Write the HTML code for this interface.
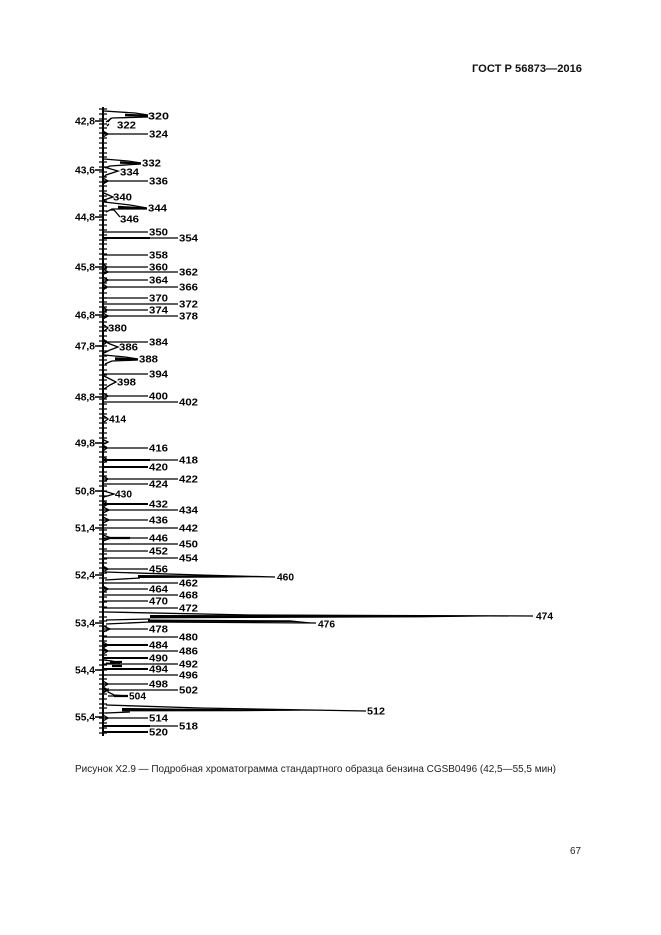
<!DOCTYPE html>
<html><head><meta charset="utf-8"><style>
html,body{margin:0;padding:0;background:#fff;}
svg{display:block;}
.t{font-family:"Liberation Sans",sans-serif;font-weight:bold;font-size:10px;fill:#000;}
.c{font-family:"Liberation Sans",sans-serif;font-size:10px;fill:#222;}
</style></head><body>
<svg width="661" height="935" viewBox="0 0 661 935" xmlns="http://www.w3.org/2000/svg">
<rect width="661" height="935" fill="#fff"/>
<text x="472" y="72" font-family="Liberation Sans, sans-serif" font-weight="bold" font-size="11" textLength="110" lengthAdjust="spacingAndGlyphs" fill="#111">ГОСТ Р 56873—2016</text>

<!-- axis -->
<g stroke="#000" fill="none">
<line x1="103" y1="107" x2="103" y2="736" stroke-width="2"/>
<path stroke-width="1.2" d="M99 109h8M99 114h8M99 119h8M99 124h8M99 128h8M99 133h8M99 138h8M99 143h8M99 148h8M99 153h8M99 157h8M99 162h8M99 167h8M99 172h8M99 177h8M99 182h8M99 186h8M99 191h8M99 196h8M99 201h8M99 206h8M99 211h8M99 215h8M99 220h8M99 225h8M99 230h8M99 235h8M99 240h8M99 244h8M99 249h8M99 254h8M99 259h8M99 264h8M99 269h8M99 273h8M99 278h8M99 283h8M99 288h8M99 293h8M99 298h8M99 302h8M99 307h8M99 312h8M99 317h8M99 322h8M99 327h8M99 331h8M99 336h8M99 341h8M99 346h8M99 351h8M99 356h8M99 360h8M99 365h8M99 370h8M99 375h8M99 380h8M99 385h8M99 389h8M99 394h8M99 399h8M99 404h8M99 409h8M99 414h8M99 418h8M99 423h8M99 428h8M99 433h8M99 438h8M99 443h8M99 447h8M99 452h8M99 457h8M99 462h8M99 467h8M99 472h8M99 476h8M99 481h8M99 486h8M99 491h8M99 496h8M99 501h8M99 505h8M99 510h8M99 515h8M99 520h8M99 525h8M99 530h8M99 534h8M99 539h8M99 544h8M99 549h8M99 554h8M99 559h8M99 563h8M99 568h8M99 573h8M99 578h8M99 583h8M99 588h8M99 592h8M99 597h8M99 602h8M99 607h8M99 612h8M99 617h8M99 621h8M99 626h8M99 631h8M99 636h8M99 641h8M99 646h8M99 650h8M99 655h8M99 660h8M99 665h8M99 670h8M99 675h8M99 679h8M99 684h8M99 689h8M99 694h8M99 699h8M99 704h8M99 708h8M99 713h8M99 718h8M99 723h8M99 728h8M99 733h8"/>
<path stroke-width="1.4" d="M95 121h8M95 170h8M95 217h8M95 267h8M95 315h8M95 346h8M95 397h8M95 443h8M95 491h8M95 528h8M95 575h8M95 623h8M95 670h8M95 717h8"/>
</g>
<g class="t">
<text x="75" y="124.5" textLength="20" lengthAdjust="spacingAndGlyphs">42,8</text>
<text x="75" y="173.5" textLength="20" lengthAdjust="spacingAndGlyphs">43,6</text>
<text x="75" y="220.5" textLength="20" lengthAdjust="spacingAndGlyphs">44,8</text>
<text x="75" y="270.5" textLength="20" lengthAdjust="spacingAndGlyphs">45,8</text>
<text x="75" y="318.5" textLength="20" lengthAdjust="spacingAndGlyphs">46,8</text>
<text x="75" y="349.5" textLength="20" lengthAdjust="spacingAndGlyphs">47,8</text>
<text x="75" y="400.5" textLength="20" lengthAdjust="spacingAndGlyphs">48,8</text>
<text x="75" y="446.5" textLength="20" lengthAdjust="spacingAndGlyphs">49,8</text>
<text x="75" y="494.5" textLength="20" lengthAdjust="spacingAndGlyphs">50,8</text>
<text x="75" y="531.5" textLength="20" lengthAdjust="spacingAndGlyphs">51,4</text>
<text x="75" y="578.5" textLength="20" lengthAdjust="spacingAndGlyphs">52,4</text>
<text x="75" y="626.5" textLength="20" lengthAdjust="spacingAndGlyphs">53,4</text>
<text x="75" y="673.5" textLength="20" lengthAdjust="spacingAndGlyphs">54,4</text>
<text x="75" y="720.5" textLength="20" lengthAdjust="spacingAndGlyphs">55,4</text>
</g>

<!-- line peaks -->
<g stroke="#000" stroke-width="1.3" fill="none">
<path d="M104 134H148M104 181H148M104 232H148M104 238H178M104 255H148M104 267H148M104 272H178M104 280H148M104 287H178M104 298H148M104 304H178M104 310H148M104 316H178M104 342H148M104 374H148M104 396H148M104 402H178"/>
<path d="M104 448H148M104 460H178M104 467H148M104 479H178M104 484H148M104 504H148M104 510H178M104 520H148M104 528H178M104 538H148M104 544H178M104 551H148M104 558H178M104 569H148M104 583H178M104 589H148M104 595H178M104 601H148M104 608H178M104 629H148M104 637H178M104 645H148M104 651H178M104 658H148M104 664H178M104 669H148M104 675H178M104 684H148M104 690H178M104 718H148M104 726H178M104 732H148"/>
<path stroke-width="2" d="M104 460H150M104 467H148M104 504H148M104 645H148M104 658H148M104 669H148M104 726H150M104 732H148M104 238H150"/>
<!-- small bumps at axis -->
<path d="M103 131l5 3l-5 3M103 178l5 3l-5 3M103 264l4 3l-4 3M103 269l5 3l-4 2M103 277l5 3l-5 3M103 284l4 3l-4 3M103 307l4 3l-4 3M103 313l5 3l-5 3M103 339l4 3l-4 3M103 393l5 3l-5 3M103 445l4 3l-4 3M103 457l5 3l-5 3M103 476l5 3l-5 3M103 501l5 3l-5 3M103 507l6 3l-6 3M103 517l6 3l-6 3M103 535l8 3l-8 3M103 566l5 3l-5 3M103 586l5 3l-5 3M103 626l7 3l-7 3M103 642l5 3l-5 3M103 648l5 3l-5 3M103 681l5 3l-5 3M103 687l5 3l-5 3M103 715l5 3l-5 3"/>
<!-- near-axis small peaks -->
<path d="M104 193l9 4l-9 3"/>
<path d="M104 167l14 4l-12 4l-2 2"/>
<path d="M108 122l3-4M109 124l-2 2"/>
<path d="M110 210l4 0l6 7"/>
<path d="M104 325l4 3l-4 3"/>
<path d="M104 341l6 3l8 3l-8 3l-6 3"/>
<path d="M104 376l6 3l6 3l-6 3l-6 4"/>
<path d="M104 416l4 3l-4 3"/>
<path d="M104 491l10 3l-10 3"/>
<path d="M104 440l4 2l-4 2"/>
<path d="M104 660l8 1l8 2M106 663l14 1"/>
<path d="M104 692l4 -3l0 3l6 3l14 1M108 696l20 0"/>
<path stroke-width="2.2" d="M108 538h22M114 696h14M110 662h12M112 666h10"/>
</g>

<!-- spikes -->
<g stroke="#000" stroke-width="1.3" fill="none">
<path d="M104 111L135 113L148 115M148 117L112 118L106 122"/>
<path d="M104 159L128 161L141 163M141 164L110 166L105 168"/>
<path d="M104 202L130 205L147 208M147 209L112 209L106 212"/>
<path d="M104 355L125 357L138 359M138 360L112 361L105 364"/>
<path d="M105 572L200 575L275 577M105 580L140 578"/>
<path d="M106 612L250 615L533 616M106 620L150 619"/>
<path d="M106 624L150 622L316 623"/>
<path d="M106 705L200 708L366 711M106 713L130 712"/>
</g>
<g fill="#000" stroke="none">
<polygon points="125,113.8 148,114.6 148,116.6 125,116.4"/>
<polygon points="120,161.3 141,162.5 141,164.3 120,163.8"/>
<polygon points="118,205.7 147,207.6 147,209.4 118,208.8"/>
<polygon points="115,357.3 138,358.5 138,360.3 115,360.3"/>
<polygon points="138,575 225,575.6 275,577 225,577.6 138,578"/>
<polygon points="150,615 420,615.3 533,616 420,617.4 150,618.4"/>
<polygon points="148,619.5 290,620.3 316,623 290,622 148,621.8"/>
<polygon points="122,708 240,709.2 330,710.5 240,711.2 122,711.4"/>
</g>

<!-- peak labels -->
<g class="t">
<text x="148" y="119.5" textLength="21" lengthAdjust="spacingAndGlyphs">320</text>
<text x="117" y="128.5" textLength="19" lengthAdjust="spacingAndGlyphs">322</text>
<text x="149" y="137.5" textLength="19" lengthAdjust="spacingAndGlyphs">324</text>
<text x="142" y="166.5" textLength="19" lengthAdjust="spacingAndGlyphs">332</text>
<text x="120" y="175.5" textLength="19" lengthAdjust="spacingAndGlyphs">334</text>
<text x="149" y="184.5" textLength="19" lengthAdjust="spacingAndGlyphs">336</text>
<text x="113" y="200.5" textLength="19" lengthAdjust="spacingAndGlyphs">340</text>
<text x="148" y="211.5" textLength="19" lengthAdjust="spacingAndGlyphs">344</text>
<text x="120" y="222.5" textLength="19" lengthAdjust="spacingAndGlyphs">346</text>
<text x="149" y="235.5" textLength="19" lengthAdjust="spacingAndGlyphs">350</text>
<text x="179" y="241.5" textLength="19" lengthAdjust="spacingAndGlyphs">354</text>
<text x="149" y="258.5" textLength="19" lengthAdjust="spacingAndGlyphs">358</text>
<text x="149" y="270.5" textLength="19" lengthAdjust="spacingAndGlyphs">360</text>
<text x="179" y="275.5" textLength="19" lengthAdjust="spacingAndGlyphs">362</text>
<text x="149" y="283.5" textLength="19" lengthAdjust="spacingAndGlyphs">364</text>
<text x="179" y="290.5" textLength="19" lengthAdjust="spacingAndGlyphs">366</text>
<text x="149" y="301.5" textLength="19" lengthAdjust="spacingAndGlyphs">370</text>
<text x="179" y="307.5" textLength="19" lengthAdjust="spacingAndGlyphs">372</text>
<text x="149" y="313.5" textLength="19" lengthAdjust="spacingAndGlyphs">374</text>
<text x="179" y="319.5" textLength="19" lengthAdjust="spacingAndGlyphs">378</text>
<text x="108" y="331.5" textLength="19" lengthAdjust="spacingAndGlyphs">380</text>
<text x="149" y="345.5" textLength="19" lengthAdjust="spacingAndGlyphs">384</text>
<text x="119" y="350.5" textLength="19" lengthAdjust="spacingAndGlyphs">386</text>
<text x="139" y="362.5" textLength="19" lengthAdjust="spacingAndGlyphs">388</text>
<text x="149" y="377.5" textLength="19" lengthAdjust="spacingAndGlyphs">394</text>
<text x="117" y="385.5" textLength="19" lengthAdjust="spacingAndGlyphs">398</text>
<text x="149" y="399.5" textLength="19" lengthAdjust="spacingAndGlyphs">400</text>
<text x="179" y="405.5" textLength="19" lengthAdjust="spacingAndGlyphs">402</text>
<text x="109" y="422.5" textLength="17" lengthAdjust="spacingAndGlyphs">414</text>
<text x="149" y="451.5" textLength="19" lengthAdjust="spacingAndGlyphs">416</text>
<text x="179" y="463.5" textLength="19" lengthAdjust="spacingAndGlyphs">418</text>
<text x="149" y="470.5" textLength="19" lengthAdjust="spacingAndGlyphs">420</text>
<text x="179" y="482.5" textLength="19" lengthAdjust="spacingAndGlyphs">422</text>
<text x="149" y="487.5" textLength="19" lengthAdjust="spacingAndGlyphs">424</text>
<text x="115" y="497.5" textLength="17" lengthAdjust="spacingAndGlyphs">430</text>
<text x="149" y="507.5" textLength="19" lengthAdjust="spacingAndGlyphs">432</text>
<text x="179" y="513.5" textLength="19" lengthAdjust="spacingAndGlyphs">434</text>
<text x="149" y="523.5" textLength="19" lengthAdjust="spacingAndGlyphs">436</text>
<text x="179" y="531.5" textLength="19" lengthAdjust="spacingAndGlyphs">442</text>
<text x="149" y="541.5" textLength="19" lengthAdjust="spacingAndGlyphs">446</text>
<text x="179" y="547.5" textLength="19" lengthAdjust="spacingAndGlyphs">450</text>
<text x="149" y="554.5" textLength="19" lengthAdjust="spacingAndGlyphs">452</text>
<text x="179" y="561.5" textLength="19" lengthAdjust="spacingAndGlyphs">454</text>
<text x="149" y="572.5" textLength="19" lengthAdjust="spacingAndGlyphs">456</text>
<text x="277" y="580.5" textLength="17" lengthAdjust="spacingAndGlyphs">460</text>
<text x="179" y="586.5" textLength="19" lengthAdjust="spacingAndGlyphs">462</text>
<text x="149" y="592.5" textLength="19" lengthAdjust="spacingAndGlyphs">464</text>
<text x="179" y="598.5" textLength="19" lengthAdjust="spacingAndGlyphs">468</text>
<text x="149" y="604.5" textLength="19" lengthAdjust="spacingAndGlyphs">470</text>
<text x="179" y="611.5" textLength="19" lengthAdjust="spacingAndGlyphs">472</text>
<text x="536" y="619.5" textLength="17" lengthAdjust="spacingAndGlyphs">474</text>
<text x="318" y="627.5" textLength="17" lengthAdjust="spacingAndGlyphs">476</text>
<text x="149" y="632.5" textLength="19" lengthAdjust="spacingAndGlyphs">478</text>
<text x="179" y="640.5" textLength="19" lengthAdjust="spacingAndGlyphs">480</text>
<text x="149" y="648.5" textLength="19" lengthAdjust="spacingAndGlyphs">484</text>
<text x="179" y="654.5" textLength="19" lengthAdjust="spacingAndGlyphs">486</text>
<text x="149" y="661.5" textLength="19" lengthAdjust="spacingAndGlyphs">490</text>
<text x="179" y="667.5" textLength="19" lengthAdjust="spacingAndGlyphs">492</text>
<text x="149" y="672.5" textLength="19" lengthAdjust="spacingAndGlyphs">494</text>
<text x="179" y="678.5" textLength="19" lengthAdjust="spacingAndGlyphs">496</text>
<text x="149" y="687.5" textLength="19" lengthAdjust="spacingAndGlyphs">498</text>
<text x="179" y="693.5" textLength="19" lengthAdjust="spacingAndGlyphs">502</text>
<text x="129" y="699.5" textLength="17" lengthAdjust="spacingAndGlyphs">504</text>
<text x="367" y="714.5" textLength="18" lengthAdjust="spacingAndGlyphs">512</text>
<text x="149" y="721.5" textLength="19" lengthAdjust="spacingAndGlyphs">514</text>
<text x="179" y="729.5" textLength="19" lengthAdjust="spacingAndGlyphs">518</text>
<text x="149" y="735.5" textLength="19" lengthAdjust="spacingAndGlyphs">520</text>
</g>

<text class="c" x="75" y="772" textLength="481" lengthAdjust="spacingAndGlyphs">Рисунок Х2.9 — Подробная хроматограмма стандартного образца бензина CGSB0496 (42,5—55,5 мин)</text>
<text class="c" x="570" y="854" textLength="11" lengthAdjust="spacingAndGlyphs">67</text>
</svg>
</body></html>
